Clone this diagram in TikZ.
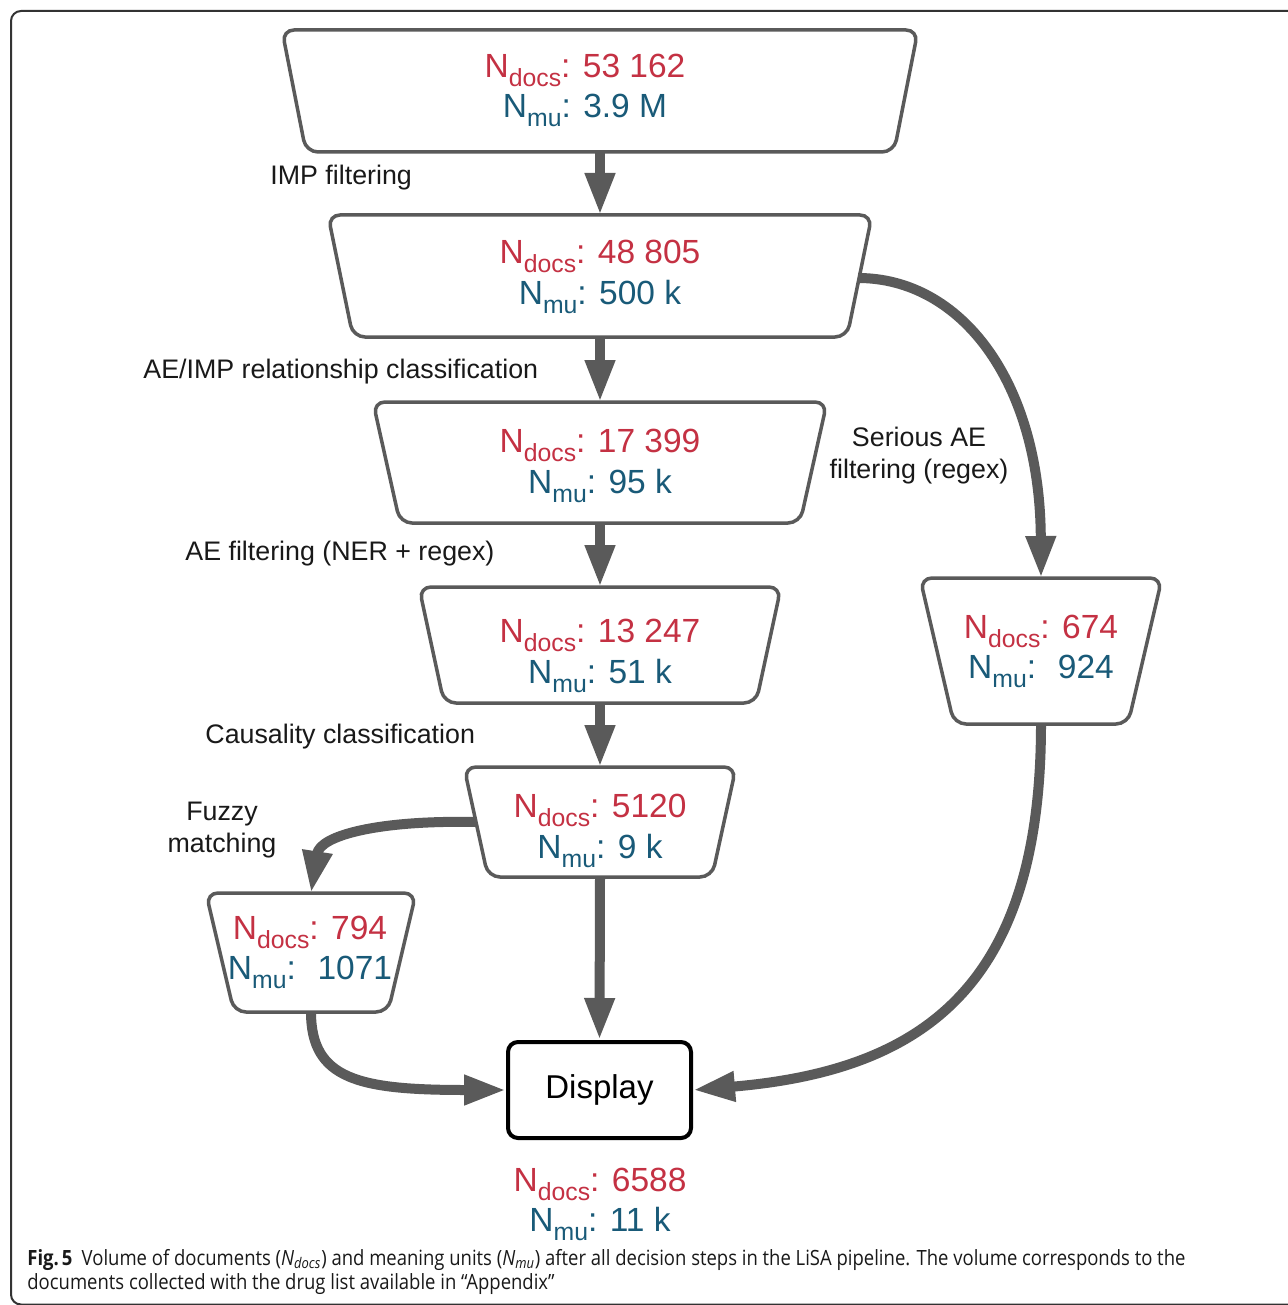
\documentclass[tikz,border=0pt]{standalone}
\usepackage{fontspec}
\setmainfont{Liberation Sans}
\newfontfamily\capfont{Open Sans}
\usepackage{graphicx}
\usetikzlibrary{arrows.meta}
\definecolor{docsred}{RGB}{196,49,67}
\definecolor{mublue}{RGB}{25,90,120}
\definecolor{linegray}{RGB}{90,90,90}
\newcommand\subx[1]{\raisebox{-0.26em}{\scalebox{0.74}{#1}}}
\newcommand\trapbox[6]{%
  \draw[boxline] ({#2-#5},#3) -- ({#2+#5},#3) -- ({#2+#6},#4) -- ({#2-#6},#4) -- cycle;
  \coordinate (#1-n) at (#2,#3);
  \coordinate (#1-s) at (#2,#4);}
\newcommand\counts[6]{%
  \node[cnt,text=docsred] (#1d) at (#2,{#3+11.5}) {N\subx{docs}: #5};
  \node[cnt,text=mublue] (#1m) at (#2,{#4+11.5}) {N\subx{mu}: #6};}
\begin{document}
\begin{tikzpicture}[x=0.5pt,y=-0.5pt,
  boxline/.style={draw=linegray,line width=1.75pt,rounded corners=6pt,fill=white},
  arr/.style={draw=linegray,line width=5pt,-{Triangle[length=21pt,width=14pt]}},
  cnt/.style={font=\fontsize{16.75}{20}\selectfont,anchor=base,inner sep=0pt},
  lbl/.style={font=\fontsize{13.4}{16}\selectfont,inner sep=0pt,text=black!90},
  dispbox/.style={draw=black,line width=2pt,rounded corners=5pt,minimum width=91.5pt,minimum height=48pt,font=\fontsize{16.5}{20}\selectfont,fill=white}]
\useasboundingbox (0,0) rectangle (1287,1305);
\fill[white] (0,0) rectangle (1287,1305);
\draw[line width=1pt,draw=black!80,rounded corners=5pt] (1300,1304.5) -- (11,1304.5) -- (11,11) -- (1300,11);

% boxes
\trapbox{b1}{600}{30}{152}{318}{294}
\trapbox{b2}{600}{215}{337}{272}{247}
\trapbox{b3}{600}{402}{523}{227}{200}
\trapbox{b4}{600}{587}{703}{181}{156}
\trapbox{b5}{600}{767}{877}{136}{112}
\trapbox{b6}{311}{893}{1012}{105}{77}
\trapbox{b7}{1041}{578}{724}{121}{87}
\coordinate (b2e) at (858,278);
\coordinate (b5w) at (476,822);
\node[dispbox] (disp) at (599.5,1090) {Display};

% counts
\counts{b1}{585}{66}{106}{53 162}{3.9 M}
\counts{b2}{600}{252}{293}{48 805}{500 k}
\counts{b3}{600}{441}{482}{17 399}{95 k}
\counts{b4}{600}{631}{672}{13 247}{51 k}
\counts{b5}{600}{806}{847}{5120}{9 k}
\counts{b6}{310}{928}{968}{794}{\ 1071}
\counts{b7}{1041}{627}{667}{674}{\ 924}
\counts{bot}{600}{1180}{1220}{6588}{11 k}

% labels
\node[lbl,anchor=west] (l1) at (270,177.5) {IMP filtering};
\node[lbl,anchor=west] (l2) at (143,371.5) {AE/IMP relationship classification};
\node[lbl,anchor=west] (l3) at (185,553.5) {AE filtering (NER + regex)};
\node[lbl,anchor=west] (l4) at (205,736.5) {Causality classification};
\node[lbl,align=center] (l5) at (222,830) {Fuzzy\\matching};
\node[lbl,align=center] (l6) at (919,456) {Serious AE\\filtering (regex)};

% arrows
\draw[arr] (b1-s) -- (b2-n);
\draw[arr] (b2-s) -- (b3-n);
\draw[arr] (b3-s) -- (b4-n);
\draw[arr] (b4-s) -- (b5-n);
\draw[arr] (b5-s) -- (disp.north);
\draw[arr] (b2e) .. controls (960,278) and (1040,380) .. (b7-n);
\draw[arr] (b5w) .. controls (380,820) and (320,835) .. (b6-n);
\draw[arr] (b6-s) .. controls (311,1080) and (360,1090) .. (disp.west);
\draw[arr] (b7-s) .. controls (1041,980) and (930,1070) .. (disp.east);

% caption
\node[anchor=north west,inner sep=0pt,text=black!90,font=\capfont\fontsize{10.5}{12}\selectfont] (cap) at (27,1248)
  {\resizebox{579pt}{\height}{\begin{tabular}{@{}l@{}}\textbf{Fig.\,5}\enspace Volume of documents (\textit{N\textsubscript{docs}}) and meaning units (\textit{N\textsubscript{mu}}) after all decision steps in the LiSA pipeline. The volume corresponds to the\\
  documents collected with the drug list available in “Appendix”\end{tabular}}};
\end{tikzpicture}
\end{document}
